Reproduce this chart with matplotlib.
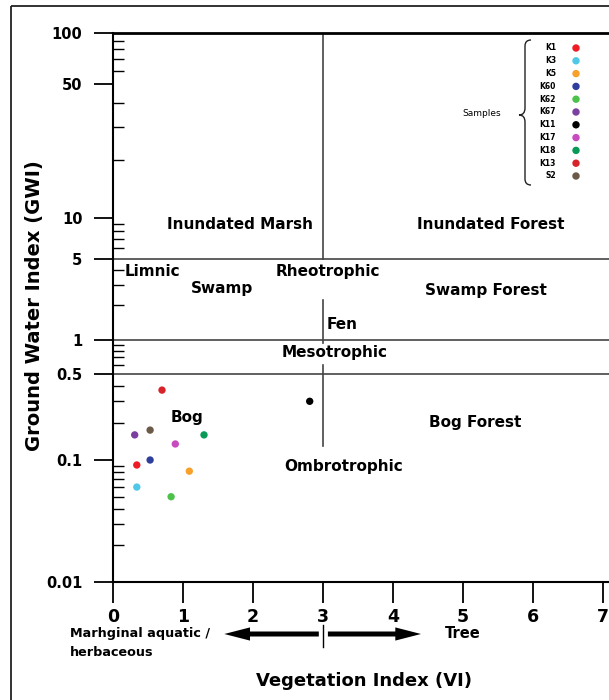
import numpy as np
import matplotlib
matplotlib.use('Agg')
import matplotlib.pyplot as plt
from matplotlib.transforms import Affine2D, blended_transform_factory
from matplotlib.patches import Rectangle, PathPatch, FancyArrowPatch
from matplotlib.path import Path
from matplotlib.ticker import FixedLocator, NullFormatter

plt.rcParams['font.family'] = ['DejaVu Sans']
plt.rcParams['font.weight'] = 'bold'

# sample points (VI, GWI)
samples = ['K1', 'K3', 'K5', 'K60', 'K62', 'K67', 'K11', 'K17', 'K18', 'K13', 'S2']
vi = [0.34, 0.34, 1.09, 0.53, 0.83, 0.31, 2.81, 0.89, 1.30, 0.70, 0.53]
gwi = [0.091, 0.060, 0.081, 0.100, 0.050, 0.160, 0.300, 0.135, 0.160, 0.370, 0.175]
colors = ['#ee1c25', '#4fc8e8', '#f7a12b', '#2e3f9e', '#4cc24a', '#7b3fa0',
          '#000000', '#c74bbf', '#0a9a58', '#d8232a', '#6b5a48']

# region labels: text, VI, GWI
regions = [('Inundated Marsh', 1.82, 9.0), ('Inundated Forest', 5.39, 9.0),
           ('Swamp', 1.56, 2.8), ('Rheotrophic', 3.07, 3.87),
           ('Swamp Forest', 5.33, 2.65), ('Fen', 3.27, 1.35),
           ('Mesotrophic', 3.17, 0.78), ('Bog', 1.06, 0.22),
           ('Bog Forest', 5.17, 0.2), ('Ombrotrophic', 3.29, 0.089)]

yticks = [0.01, 0.1, 0.5, 1, 5, 10, 50, 100]
ytick_labels = ['0.01', '0.1', '0.5', '1', '5', '10', '50', '100']
xticks = [0, 1, 2, 3, 4, 5, 6, 7]

# the drawn y axis is not a clean log scale: decades above 10 are stretched
LOGK = [-2, -1, -0.301, 0, 0.699, 1, 1.699, 2]
POSK = [0, 122, 208, 242, 323, 364, 498, 549]

def fwd(y):
    t = np.log10(np.clip(y, 1e-9, None))
    return np.interp(t, LOGK, POSK)

def inv(v):
    return 10 ** np.interp(v, POSK, LOGK)

W, H = 609, 700
fig = plt.figure(figsize=(W / 100, H / 100), dpi=100)
px = Affine2D().scale(1 / W, -1 / H).translate(0, 1) + fig.transFigure

fig.add_artist(Rectangle((11, 6), 800, 900, transform=px, fill=False,
                         lw=1.3, ec='#222222'))

ax = fig.add_axes([113 / W, (H - 582) / H, (W - 113) / W, (582 - 33) / H])
ax.set_yscale('function', functions=(fwd, inv))
ax.set_ylim(0.01, 100)
ax.set_xlim(0, (W - 113) / 70)

ax.yaxis.set_major_locator(FixedLocator(yticks))
ax.set_yticklabels(ytick_labels)
minors = [k * 10.0 ** e for e in range(-2, 2) for k in range(2, 10)]
ax.yaxis.set_minor_locator(FixedLocator(minors))
ax.yaxis.set_minor_formatter(NullFormatter())
ax.set_xticks(xticks)
ax.set_xticklabels([str(x) for x in xticks])

ax.tick_params(axis='y', which='major', direction='out', length=14, width=1.3,
               labelsize=10.5, pad=8)
ax.tick_params(axis='y', which='minor', direction='in', length=8, width=1)
ax.tick_params(axis='x', direction='out', length=15, width=1.3,
               labelsize=12.5, pad=4)
for lab in ax.get_xticklabels() + ax.get_yticklabels():
    lab.set_fontweight('bold')

ax.spines['right'].set_visible(False)
ax.spines['top'].set_linewidth(2)
ax.spines['left'].set_linewidth(1.5)
ax.spines['bottom'].set_linewidth(1.5)

for yv in [5, 1, 0.5]:
    ax.axhline(yv, color='#444444', lw=1.2)
for y0, y1 in [(5, 100), (0.95, 2.2), (0.13, 0.6)]:
    ax.plot([3, 3], [y0, y1], color='#444444', lw=1.2)

for name, x, y in regions:
    ax.text(x, y, name, ha='center', va='center', fontsize=11, fontweight='bold')
ax.text(0.17, 3.9, 'Limnic', ha='left', va='center', fontsize=11, fontweight='bold')

ax.scatter(vi, gwi, c=colors, s=28, zorder=5, edgecolors='none')

# legend drawn by hand
for i, (name, col) in enumerate(zip(samples, colors)):
    yy = 48 + i * 12.8
    fig.text(556, yy, name, transform=px, ha='right', va='center',
             fontsize=5.5, fontweight='bold')
    fig.add_artist(plt.Circle((576, yy), 3, transform=px, color=col))
brace = Path([(531, 40), (525, 40), (525, 46), (525, 108), (525, 115), (519, 115),
              (525, 115), (525, 122), (525, 179), (525, 185), (531, 185)],
             [Path.MOVETO, Path.CURVE3, Path.CURVE3, Path.LINETO, Path.CURVE3,
              Path.CURVE3, Path.CURVE3, Path.CURVE3, Path.LINETO, Path.CURVE3,
              Path.CURVE3])
fig.add_artist(PathPatch(brace, transform=px, fill=False, lw=1, ec='#222222'))
fig.text(482, 113, 'Samples', transform=px, ha='center', va='center',
         fontsize=6.5, fontweight='normal')

# vegetation arrows below the axis
bt = blended_transform_factory(ax.transData, px)
for x0, x1 in [(2.94, 1.59), (3.07, 4.40)]:
    arr = FancyArrowPatch((x0, 634), (x1, 634), transform=bt,
                          arrowstyle='simple,head_length=1.85,head_width=0.95,tail_width=0.36',
                          mutation_scale=10, lw=0, color='black',
                          shrinkA=0, shrinkB=0, clip_on=False)
    ax.add_artist(arr)
ax.plot([3, 3], [625, 647], transform=bt, color='black', lw=1, clip_on=False)
ax.text(5.0, 634, 'Tree', transform=bt, ha='center', va='center',
        fontsize=10.5, fontweight='bold')
fig.text(70, 634, 'Marhginal aquatic /', transform=px, ha='left', va='center',
         fontsize=9.2, fontweight='bold')
fig.text(70, 652, 'herbaceous', transform=px, ha='left', va='center',
         fontsize=9.2, fontweight='bold')

fig.text(364, 681, 'Vegetation Index (VI)', transform=px, ha='center',
         va='center', fontsize=13, fontweight='bold')
fig.text(35, 306, 'Ground Water Index (GWI)', transform=px, ha='center',
         va='center', rotation=90, fontsize=14, fontweight='bold')

fig.savefig('out.png', dpi=100)
